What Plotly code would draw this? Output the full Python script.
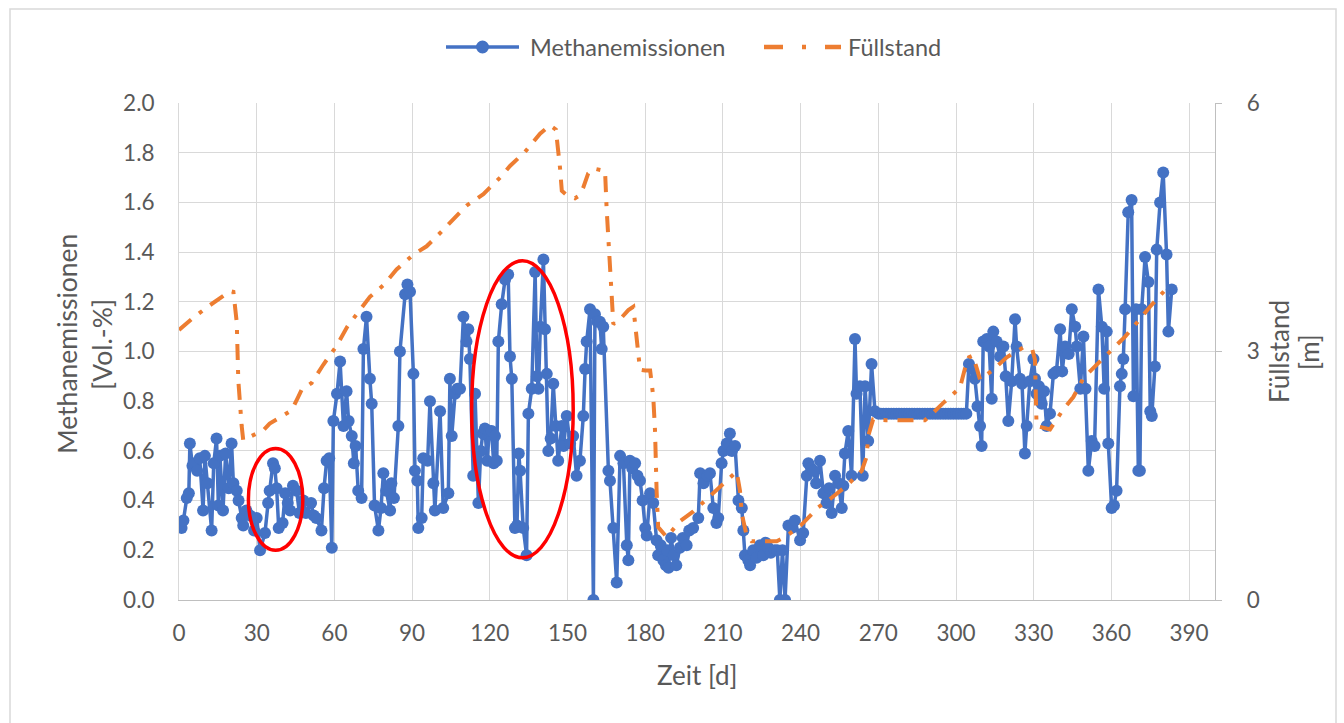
import plotly.graph_objects as go

# ---------------- data ----------------
meth_days = [1.0, 1.7, 3.0, 3.8, 4.2, 5.2, 6.0, 7.0, 8.0, 9.3, 10.0, 11.0, 12.6, 13.4, 14.5, 15.2, 15.8, 17.0, 18.0, 19.2,
             20.3, 21.0, 22.3, 23.0, 24.2, 24.8,
             26.0, 27.4, 29.0, 30.0, 31.3, 33.2, 34.4, 35.0, 36.3, 37.0, 37.7, 38.5, 40.0, 41.0, 42.0, 42.9, 44.0, 45.4,
             46.5, 48.0, 49.0, 51.0, 52.0, 53.0, 55.0, 56.0, 57.0, 58.0, 59.0, 59.6,
             61.0, 62.2, 63.5, 64.7, 65.5, 66.7, 67.5, 68.2, 69.2, 70.5, 71.2, 72.4, 73.7, 74.4, 75.5, 77.0, 78.0, 78.9,
             80.0, 81.5, 82.0, 83.0, 84.7, 85.3, 87.3, 88.2, 89.2, 90.5, 91.1, 92.0, 92.4,
             93.7, 94.3, 96.0, 96.9, 98.2, 98.8, 100.8, 102.0, 104.0, 104.6, 105.3, 106.6, 107.5, 108.5, 109.8, 111.0,
             111.7, 112.3, 113.6, 114.3, 115.6, 116.5, 117.3, 118.1, 119.0, 119.8, 120.7, 121.5, 122.0, 122.7, 123.3,
             124.6, 125.9, 127.1, 127.8, 128.5,
             129.7, 130.5, 131.2, 131.7, 132.9, 134.2, 134.9, 136.2, 137.5, 138.2, 138.8, 139.5, 140.7, 141.3, 142.0,
             142.6, 143.5, 144.5, 145.5, 146.4, 147.8, 148.5, 149.7, 151.0, 152.2, 153.5, 154.8, 156.1, 156.8, 157.4,
             158.7, 160.0, 160.6, 161.5, 162.5, 163.2, 163.8,
             165.8, 166.4, 167.7, 169.0, 170.3, 171.6, 172.9, 173.5, 174.1, 175.0, 176.1, 177.0, 178.0, 179.0, 180.0,
             180.6, 181.9, 183.1, 184.4, 185.0, 186.0, 187.0, 188.0, 188.5, 189.0, 190.0, 191.0, 192.0, 193.4, 194.5,
             196.0, 197.0, 198.5, 200.5, 201.2, 202.5, 204.0, 205.0, 206.3, 207.5, 208.2, 209.5, 210.2, 211.5, 212.7,
             213.5, 214.7, 216.0, 217.3, 217.9, 218.5, 219.8, 220.5, 221.7, 223.0, 224.3, 225.6, 226.5, 227.5, 228.5,
             230.0, 231.0, 232.0, 233.0, 234.0, 235.3, 236.5, 237.8, 239.8, 241.0, 242.4, 243.0, 244.0, 245.0, 246.0,
             247.5, 248.8, 250.0, 251.0, 252.0, 253.3, 254.6, 255.9, 256.5, 257.1, 258.4, 259.7, 261.0, 261.6, 262.9,
             264.0, 264.9, 266.1, 267.4, 268.7,
             270, 271, 272, 273, 274, 275, 276, 277, 278, 279, 280, 281, 282, 283, 284, 285, 286, 287, 288, 289, 290,
             291, 292, 293, 294, 295, 296, 297, 298, 299, 300, 301, 302, 303, 304,
             305.0, 306.0, 307.3, 308.3, 309.3, 309.9, 310.5, 311.9, 312.8, 313.8, 314.4, 315.7, 317.0, 318.3, 319.2,
             320.2, 321.5, 322.8, 323.4, 324.7, 325.5, 326.6, 327.3, 328.5, 329.9, 330.5, 331.1, 332.0, 333.1, 334.0,
             335.0, 336.3, 337.6, 338.8, 340.2, 341.0, 342.1, 343.5, 344.7, 346.0, 346.6, 348.0, 349.2, 350.0, 351.1,
             352.4, 353.5, 355.0, 356.3, 357.2, 358.2, 358.8, 360.1, 361.0, 362.0, 363.3, 364.0, 364.6, 365.3, 366.5,
             367.8, 368.5, 369.5, 370.4, 371.0, 371.7, 373.0, 374.3, 375.0, 375.6, 376.8, 377.5, 378.8, 380.0, 381.3,
             382.0, 383.3]

meth_vals = [0.29, 0.32, 0.41, 0.43, 0.63, 0.54, 0.55, 0.52, 0.57, 0.36, 0.58, 0.47, 0.28, 0.55, 0.65, 0.38, 0.58, 0.36, 0.59, 0.45,
             0.63, 0.47, 0.44, 0.40, 0.33, 0.30,
             0.36, 0.34, 0.28, 0.33, 0.20, 0.27, 0.39, 0.44, 0.55, 0.53, 0.45, 0.29, 0.31, 0.43, 0.39, 0.36, 0.46, 0.44,
             0.35, 0.40, 0.35, 0.39, 0.34, 0.33, 0.28, 0.45, 0.56, 0.57, 0.21, 0.72,
             0.83, 0.96, 0.70, 0.84, 0.72, 0.66, 0.55, 0.62, 0.44, 0.41, 1.01, 1.14, 0.89, 0.79, 0.38, 0.28, 0.37, 0.51,
             0.44, 0.36, 0.47, 0.41, 0.70, 1.00, 1.23, 1.27, 1.24, 0.91, 0.52, 0.48, 0.29,
             0.33, 0.57, 0.56, 0.80, 0.47, 0.36, 0.76, 0.37, 0.43, 0.89, 0.66, 0.83, 0.85, 0.85, 1.14, 1.04,
             1.09, 0.97, 0.50, 0.83, 0.39, 0.60, 0.67, 0.69, 0.56, 0.68, 0.68, 0.55, 0.66, 0.56, 1.04,
             1.19, 1.29, 1.31, 0.98, 0.89,
             0.29, 0.30, 0.59, 0.52, 0.29, 0.18, 0.75, 0.85, 1.32, 0.90, 0.85, 1.10, 1.37, 1.09, 0.91,
             0.60, 0.65, 0.87, 0.70, 0.56, 0.70, 0.62, 0.74, 0.63, 0.66, 0.50, 0.56, 0.74, 0.93, 1.04,
             1.17, 0.00, 1.15, 1.12, 1.12, 1.01, 1.10,
             0.52, 0.48, 0.29, 0.07, 0.58, 0.55, 0.22, 0.16, 0.56, 0.53, 0.55, 0.50, 0.48, 0.40, 0.29,
             0.26, 0.43, 0.39, 0.24, 0.18, 0.22, 0.16, 0.14, 0.20, 0.13, 0.25, 0.18, 0.14, 0.21, 0.25,
             0.22, 0.28, 0.29, 0.33, 0.51, 0.47, 0.50, 0.51, 0.37, 0.31, 0.33, 0.55, 0.60, 0.63, 0.67,
             0.60, 0.62, 0.40, 0.37, 0.28, 0.18, 0.16, 0.14, 0.20, 0.17, 0.22, 0.18, 0.23, 0.21, 0.19,
             0.20, 0.20, 0.00, 0.20, 0.00, 0.30, 0.29, 0.32, 0.24, 0.27, 0.50, 0.55, 0.53, 0.52, 0.47,
             0.56, 0.43, 0.39, 0.45, 0.35, 0.50, 0.47, 0.37, 0.46, 0.59, 0.68, 0.50, 1.05, 0.83, 0.86,
             0.50, 0.86, 0.64, 0.95, 0.76,
             0.75, 0.75, 0.75, 0.75, 0.75, 0.75, 0.75, 0.75, 0.75, 0.75, 0.75, 0.75, 0.75, 0.75, 0.75, 0.75, 0.75,
             0.75, 0.75, 0.75, 0.75, 0.75, 0.75, 0.75, 0.75, 0.75, 0.75, 0.75, 0.75, 0.75, 0.75, 0.75, 0.75, 0.75,
             0.75,
             0.95, 0.93, 0.89, 0.78, 0.70, 0.62, 1.04, 1.05, 1.02, 0.81, 1.08, 1.04, 0.98, 1.02, 0.90,
             0.72, 0.88, 1.13, 1.02, 0.89, 0.87, 0.59, 0.70, 0.88, 0.97, 0.89, 0.83, 0.86, 0.79, 0.84,
             0.70, 0.75, 0.91, 0.92, 1.09, 0.92, 1.02, 0.99, 1.17, 1.10, 1.02, 0.85, 1.06, 0.85, 0.52,
             0.64, 0.62, 1.25, 1.10, 0.85, 1.08, 0.63, 0.37, 0.38, 0.44, 0.86, 0.91, 0.97, 1.17, 1.56,
             1.61, 0.82, 1.17, 0.52, 0.52, 1.17, 1.38, 1.28, 0.76, 0.74, 0.94, 1.41, 1.60, 1.72, 1.39,
             1.08, 1.25]

fill_days = [0, 6, 12, 17, 19.7, 21, 21.5, 22.3, 22.9, 23.5, 24.2, 24.8, 28, 32.6, 35, 39, 43.5, 46, 47.4, 51.2,
             55.7, 60.9, 65, 68.6, 73.7, 78.9, 84, 90.5, 95.6, 100.8, 107.2, 111, 117.5, 124, 127.8, 133.6, 139.4,
             143.2, 145.5, 146.2, 147.1, 147.8, 150, 152.9, 154.5, 156.1, 158, 160, 164.5, 165.1, 166.4, 167.1,
             167.7, 170, 173.5, 175.4, 176.7, 178, 180, 181.9, 183.1, 183.8, 184.4, 185, 188.3, 193.4, 198.6,
             204.4, 210.8, 215.3, 216.6, 217.3, 219, 221.1, 226, 230.8, 234, 240.4, 246.8, 251.4, 257.8, 263.6,
             265.5, 266.1, 268, 273, 283.5, 288, 291.2, 295.1, 301.5, 303.5, 305, 306.5, 308, 309.3, 314.4, 319.6,
             326, 329.5, 330.5, 331.1, 336.3, 341.4, 345.3, 349.2, 355.6, 359.5, 365.3, 371, 374.9, 380.7]

fill_vals = [3.26, 3.42, 3.56, 3.68, 3.73, 3.72, 3.60, 3.35, 2.65, 2.30, 2.10, 1.93, 1.98, 2.05, 2.13, 2.20, 2.29, 2.45,
             2.54, 2.62, 2.84, 3.07, 3.30, 3.45, 3.66, 3.80, 3.99, 4.17, 4.27, 4.43, 4.63, 4.76, 4.90, 5.10, 5.24,
             5.41, 5.63, 5.73, 5.68, 5.50, 5.22, 4.94, 4.88, 4.85, 4.88, 4.98, 5.15, 5.21, 5.18, 4.73, 4.02, 3.63,
             3.33, 3.38, 3.50, 3.54, 3.20, 2.78, 2.77, 2.77, 2.46, 2.04, 1.32, 0.88, 0.76, 0.95, 1.07, 1.24, 1.43,
             1.55, 1.32, 1.04, 0.80, 0.71, 0.71, 0.71, 0.76, 0.91, 1.12, 1.22, 1.38, 1.56, 1.73, 1.98, 2.18, 2.17,
             2.17, 2.17, 2.26, 2.38, 2.56, 2.80, 2.93, 2.95, 2.80, 2.66, 2.78, 2.93, 3.05, 3.02, 2.90, 2.10, 2.06,
             2.30, 2.45, 2.68, 2.88, 3.00, 3.18, 3.39, 3.54, 3.74]

x_ticks = [0, 30, 60, 90, 120, 150, 180, 210, 240, 270, 300, 330, 360, 390]
y_ticks = [0.0, 0.2, 0.4, 0.6, 0.8, 1.0, 1.2, 1.4, 1.6, 1.8, 2.0]
y2_ticks = [0, 3, 6]

# ---------------- figure ----------------
FONT = "Lato"
GREY = "#595959"
GRID = "#D9D9D9"
BLUE = "#4472C4"
ORANGE = "#ED7D31"

L, R, T, B = 179, 129, 103, 123
W, H = 1344, 723
pw, ph = W - L - R, H - T - B


def px_x(px):
    return (px - L) / pw


def px_y(py):
    return (H - B - py) / ph


fig = go.Figure()
fig.add_trace(go.Scatter(
    x=meth_days, y=meth_vals, name="Methanemissionen", mode="lines+markers",
    line=dict(color=BLUE, width=3.5),
    marker=dict(color=BLUE, size=12, line=dict(width=0)),
    yaxis="y", showlegend=False))
fig.add_trace(go.Scatter(
    x=fill_days, y=fill_vals, name="Füllstand", mode="lines",
    line=dict(color=ORANGE, width=4, dash="16px,10px,4px,10px"),
    yaxis="y2", showlegend=False))

LEG_Y = px_y(47)
mr = 6.5  # legend marker radius in px

fig.update_layout(
    width=W, height=H,
    margin=dict(l=L, r=R, t=T, b=B, autoexpand=False),
    paper_bgcolor="white", plot_bgcolor="white",
    font=dict(family=FONT, color=GREY, size=22),
    showlegend=False,
    xaxis=dict(range=[0, 400], tickvals=x_ticks, showgrid=True, gridcolor=GRID, gridwidth=1.3,
               showline=True, linecolor="#BFBFBF", linewidth=1.3, zeroline=False, ticks="",
               tickfont=dict(size=22.5, color=GREY, family=FONT), ticklabelstandoff=13, automargin=False),
    yaxis=dict(range=[0, 2.0], tickvals=y_ticks, tickformat=".1f", showgrid=True, gridcolor=GRID,
               gridwidth=1.3, showline=True, linecolor=GRID, zeroline=False, ticks="",
               tickfont=dict(size=22.5, color=GREY, family=FONT), ticklabelstandoff=19, automargin=False),
    yaxis2=dict(range=[0, 6], tickvals=y2_ticks, overlaying="y", side="right", showgrid=False,
                showline=True, linecolor="#BFBFBF", linewidth=1.3, ticks="outside", ticklen=6,
                tickcolor="#BFBFBF", zeroline=False,
                tickfont=dict(size=22.5, color=GREY, family=FONT), ticklabelstandoff=20, automargin=False),
    shapes=[
        # outer chart border
        dict(type="rect", xref="paper", yref="paper", x0=px_x(10), x1=px_x(1336), y0=px_y(740), y1=px_y(9),
             line=dict(color="#D9D9D9", width=1.5), fillcolor="rgba(0,0,0,0)", layer="below"),
        # red highlight ellipses
        dict(type="circle", xref="x", yref="y", x0=26.8, x1=47.8, y0=0.20, y1=0.61,
             line=dict(color="#FF0000", width=3.5)),
        dict(type="circle", xref="x", yref="y", x0=113.0, x1=152.2, y0=0.17, y1=1.365,
             line=dict(color="#FF0000", width=3.5)),
        # legend: Methanemissionen
        dict(type="line", xref="paper", yref="paper", x0=px_x(446), x1=px_x(519), y0=LEG_Y, y1=LEG_Y,
             line=dict(color=BLUE, width=3.5)),
        dict(type="circle", xref="paper", yref="paper", x0=px_x(482.5 - mr), x1=px_x(482.5 + mr),
             y0=LEG_Y - mr / ph, y1=LEG_Y + mr / ph, fillcolor=BLUE, line=dict(color=BLUE, width=0)),
        # legend: Füllstand
        dict(type="line", xref="paper", yref="paper", x0=px_x(764), x1=px_x(841), y0=LEG_Y, y1=LEG_Y,
             line=dict(color=ORANGE, width=4.5, dash="19px,19px,4px,19px")),
    ],
    annotations=[
        dict(text="Methanemissionen", xref="paper", yref="paper", x=px_x(528), y=LEG_Y,
             xanchor="left", yanchor="middle", showarrow=False, font=dict(size=23.5, color=GREY, family=FONT)),
        dict(text="Füllstand", xref="paper", yref="paper", x=px_x(846), y=LEG_Y,
             xanchor="left", yanchor="middle", showarrow=False, font=dict(size=23.5, color=GREY, family=FONT)),
        dict(text="Methanemissionen", textangle=-90, xref="paper", yref="paper",
             x=px_x(67), y=px_y(344), xanchor="center", yanchor="middle", showarrow=False,
             font=dict(size=26.5, color=GREY, family=FONT)),
        dict(text="[Vol.-%]", textangle=-90, xref="paper", yref="paper",
             x=px_x(102), y=px_y(345), xanchor="center", yanchor="middle", showarrow=False,
             font=dict(size=26.5, color=GREY, family=FONT)),
        dict(text="Füllstand", textangle=-90, xref="paper", yref="paper",
             x=px_x(1279), y=px_y(352), xanchor="center", yanchor="middle", showarrow=False,
             font=dict(size=26, color=GREY, family=FONT)),
        dict(text="[m]", textangle=-90, xref="paper", yref="paper",
             x=px_x(1309), y=px_y(352), xanchor="center", yanchor="middle", showarrow=False,
             font=dict(size=26, color=GREY, family=FONT)),
        dict(text="Zeit [d]", xref="paper", yref="paper", x=px_x(697), y=px_y(675),
             xanchor="center", yanchor="middle", showarrow=False,
             font=dict(size=26, color=GREY, family=FONT)),
    ],
)

fig.write_html("out.html")
